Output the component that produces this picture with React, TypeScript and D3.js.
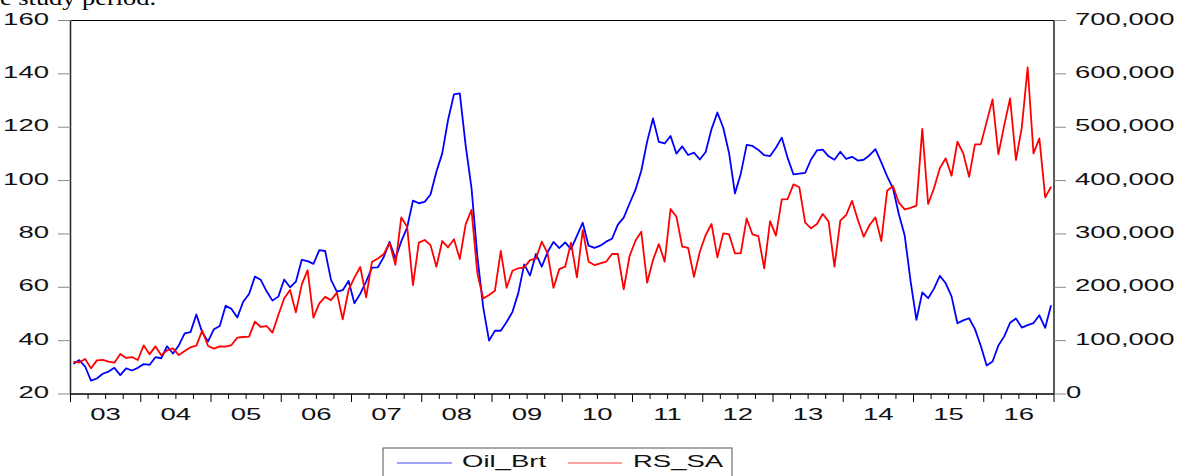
import * as d3 from 'd3';

const years = ['03', '04', '05', '06', '07', '08', '09', '10', '11', '12', '13', '14', '15', '16'];

// monthly Brent price, 2003M01 - 2016M12 (left axis)
const oilBrt = [
  31.3, 32.7, 30.3, 25.0, 25.8, 27.6, 28.4, 29.8, 27.1, 29.6, 28.8, 29.8,
  31.2, 30.9, 33.8, 33.4, 37.9, 35.2, 38.2, 42.7, 43.2, 49.8, 43.1, 39.7,
  44.3, 45.5, 53.1, 51.9, 48.7, 54.6, 57.5, 64.0, 62.8, 58.5, 55.0, 56.5,
  62.9, 60.0, 62.1, 70.3, 69.8, 68.8, 73.9, 73.6, 62.8, 58.4, 58.9, 62.4,
  54.0, 57.6, 62.1, 67.4, 67.5, 71.3, 77.0, 70.8, 77.2, 82.4, 92.5, 91.5,
  92.0, 94.8, 103.3, 110.2, 122.8, 132.3, 132.7, 113.2, 97.2, 71.6, 52.5, 40.0,
  43.7, 43.7, 47.0, 50.8, 57.9, 68.6, 64.4, 72.5, 67.7, 73.2, 77.0, 74.7,
  76.8, 74.3, 79.3, 84.2, 75.6, 74.8, 75.6, 77.1, 78.2, 83.5, 86.1, 91.4,
  96.5, 103.7, 114.6, 123.3, 114.5, 113.9, 116.7, 110.1, 112.8, 109.6, 110.5, 107.9,
  110.7, 119.3, 125.5, 119.8, 110.3, 95.2, 102.6, 113.4, 113.0, 111.5, 109.5, 109.2,
  112.3, 116.1, 108.5, 102.3, 102.6, 102.9, 107.9, 111.3, 111.6, 109.1, 107.8, 110.8,
  108.1, 108.9, 107.5, 107.8, 109.5, 111.8, 106.8, 101.6, 97.1, 87.4, 79.4, 62.3,
  47.8, 58.1, 55.9, 59.5, 64.3, 61.5, 56.6, 46.5, 47.6, 48.4, 44.3, 38.0,
  30.7, 32.2, 38.2, 41.6, 46.7, 48.3, 44.9, 45.8, 46.6, 49.5, 44.8, 53.3,
];

// RS_SA in thousands (right axis)
const rsSa = [
  60.5, 59, 65.6, 48, 63, 64, 60.5, 58.7, 75, 67.5, 69.3, 63.7,
  91.2, 74.3, 89.3, 72.5, 81.8, 85.6, 73, 80.6, 87.5, 90.6, 118.7, 90,
  85, 89.3, 88.7, 91.8, 105.6, 106.8, 107.5, 135.6, 125.6, 127.4, 115, 148,
  179, 195, 153, 205, 232, 143, 170, 182, 176, 190, 140, 195,
  218, 238, 181, 248, 254, 262, 283, 242, 331, 313.5, 204, 283.6,
  288.6, 279, 238.6, 286.7, 275, 290, 253, 318, 345, 226, 179, 185.5,
  193.6, 268, 199, 231, 235.6, 237.4, 251, 253.6, 285.4, 263.6, 199, 234,
  238.6, 283.6, 218.7, 307.3, 248, 241.7, 245, 248, 262.4, 262.4, 196, 258.6,
  287.3, 304, 208.6, 251, 281, 248, 346.7, 332.3, 276, 274, 219.8, 266.7,
  298, 318.6, 256, 301, 299, 263.7, 264, 329, 299, 296, 235.6, 324,
  296.7, 364.9, 365.4, 393, 387.4, 321, 310.5, 318.6, 337.3, 323, 238.6, 324.8,
  335.5, 362, 326, 294.8, 316.7, 331, 286.7, 381, 389.8, 358.5, 346, 349,
  353, 497, 356, 385.5, 423, 441.7, 409, 472.8, 451, 407, 468, 468,
  510, 552, 449, 504, 554, 438.5, 499.8, 612, 451, 479, 368.6, 388.5,
];

const leftTicks = [20, 40, 60, 80, 100, 120, 140, 160];
const rightTicks = [0, 100, 200, 300, 400, 500, 600, 700];

const W = 1180;
const H = 476;
const L = 70.5;
const R = 1054;
const T = 20.5;
const B = 394;
const SX = 1.72; // the original's labels are wide
const FONT = '"Liberation Sans", Arial, sans-serif';

export default function App() {
  const x = d3.scaleLinear().domain([0, oilBrt.length]).range([L, R]);
  const yL = d3.scaleLinear().domain([20, 160]).range([B, T]);
  const yR = d3.scaleLinear().domain([0, 700]).range([B, T]);
  const fmt = d3.format(',');

  const oilLine = d3.line<number>().x((_, i) => x(i + 0.5)).y(d => yL(d));
  const rsLine = d3.line<number>().x((_, i) => x(i + 0.5)).y(d => yR(d));

  const quarterTicks = d3.range(0, oilBrt.length + 1, 3);

  return (
    <svg width={W} height={H} style={{ position: 'absolute', left: 0, top: 0, background: '#fff' }}>
      <text
        transform={`translate(-20.5,4.5) scale(1.2,1)`}
        fontFamily='"Liberation Serif", "Times New Roman", serif'
        fontSize={22}
        fill="#000"
      >
        the study period.
      </text>

      {/* frame */}
      <line x1={L} x2={R} y1={T} y2={T} stroke="#000" strokeWidth={1} />
      <line x1={L} x2={L} y1={T} y2={B} stroke="#222" strokeWidth={1.5} />
      <line x1={R} x2={R} y1={T} y2={B} stroke="#222" strokeWidth={1.5} />
      <line x1={L} x2={R} y1={B} y2={B} stroke="#000" strokeWidth={1.5} />

      {/* left axis */}
      {leftTicks.map(d => (
        <g key={'l' + d}>
          <line x1={58} x2={L} y1={yL(d)} y2={yL(d)} stroke="#888" strokeWidth={1} />
          <text
            transform={`translate(49,${yL(d) + 4}) scale(${SX},1)`}
            textAnchor="end"
            fontFamily={FONT}
            fontSize={16}
            fill="#111"
          >
            {d}
          </text>
        </g>
      ))}

      {/* right axis */}
      {rightTicks.map(d => (
        <g key={'r' + d}>
          <line x1={R} x2={1066} y1={yR(d)} y2={yR(d)} stroke="#888" strokeWidth={1} />
          <text
            transform={`translate(${d === 0 ? 1066 : 1075},${yR(d) + 4}) scale(${SX},1)`}
            fontFamily={FONT}
            fontSize={16}
            fill="#111"
          >
            {fmt(d * 1000)}
          </text>
        </g>
      ))}

      {/* bottom axis */}
      {quarterTicks.map(m => (
        <line
          key={'q' + m}
          x1={x(m)}
          x2={x(m)}
          y1={B}
          y2={m % 12 === 0 ? B + 8 : B + 5}
          stroke="#000"
          strokeWidth={1}
        />
      ))}
      {years.map((yr, k) => (
        <text
          key={'y' + yr}
          transform={`translate(${x(k * 12 + 6)},420) scale(${SX},1)`}
          textAnchor="middle"
          fontFamily={FONT}
          fontSize={16}
          fill="#111"
        >
          {yr}
        </text>
      ))}

      {/* series */}
      <path d={oilLine(oilBrt) ?? ''} fill="none" stroke="#0000ff" strokeWidth={1.8} strokeLinejoin="round" />
      <path d={rsLine(rsSa) ?? ''} fill="none" stroke="#ff0000" strokeWidth={1.8} strokeLinejoin="round" />

      {/* legend */}
      <rect x={383} y={448} width={349} height={40} fill="#fff" stroke="#555" strokeWidth={1} />
      <line x1={397} x2={452} y1={463} y2={463} stroke="#4444ff" strokeWidth={1.2} />
      <text transform={`translate(462,467) scale(${SX},1)`} fontFamily={FONT} fontSize={16} fill="#111">
        Oil_Brt
      </text>
      <line x1={568} x2={622} y1={463} y2={463} stroke="#ff4444" strokeWidth={1.2} />
      <text transform={`translate(633,467) scale(${SX},1)`} fontFamily={FONT} fontSize={16} fill="#111">
        RS_SA
      </text>
    </svg>
  );
}
